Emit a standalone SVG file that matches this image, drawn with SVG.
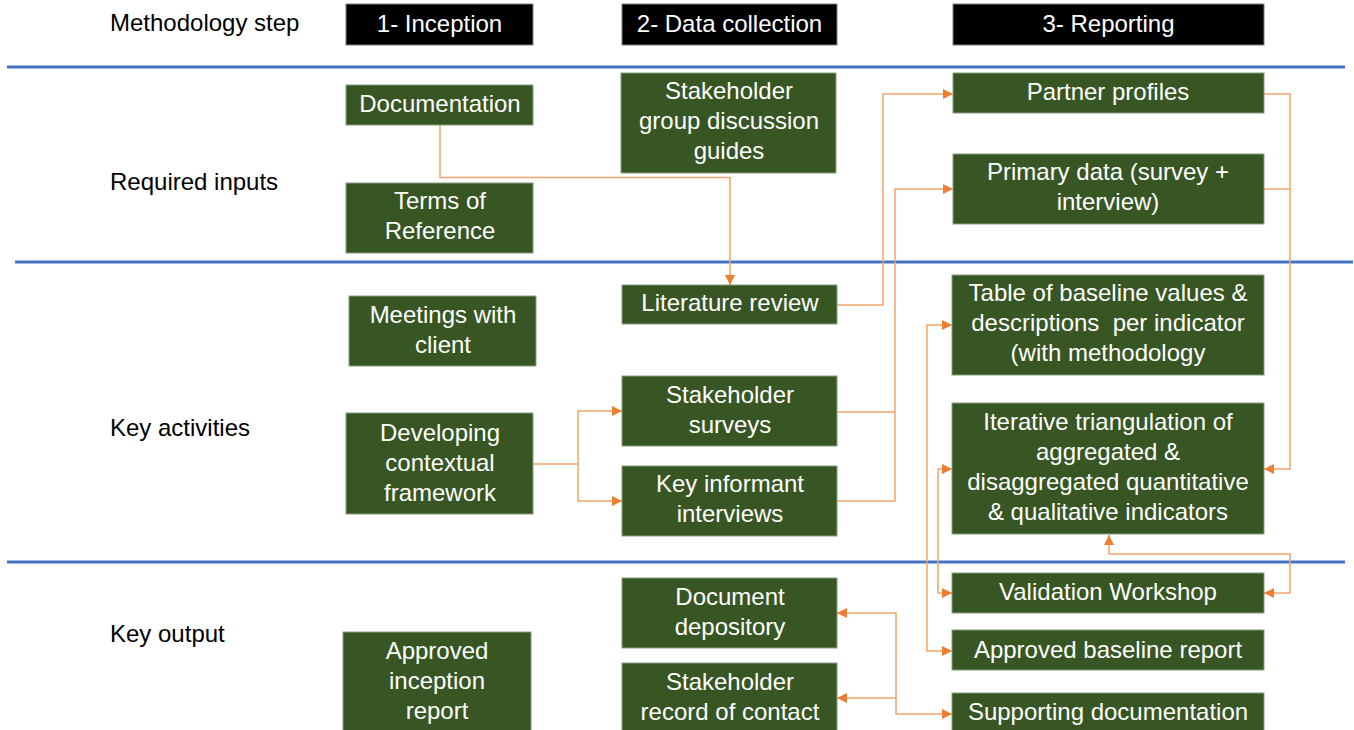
<svg xmlns="http://www.w3.org/2000/svg" width="1354" height="730" viewBox="0 0 1354 730">
<style>
.hdr{fill:#000;stroke:#7f7f7f;stroke-width:1}
.node{fill:#375623;stroke:#8a9e7c;stroke-width:1}
.t{font-family:"Liberation Sans",Arial,sans-serif;font-size:24px;fill:#fff;text-anchor:middle}
.lbl{font-family:"Liberation Sans",Arial,sans-serif;font-size:24px;fill:#000}
.sep{stroke:#4472C4;stroke-width:3}
.c{fill:none;stroke:#F4A46E;stroke-width:1.5}
</style>
<defs>
<marker id="ah" markerUnits="userSpaceOnUse" markerWidth="11" markerHeight="10" refX="10" refY="5" orient="auto-start-reverse">
<path d="M0,0 L10,5 L0,10 z" fill="#ED7D31"/>
</marker>
</defs>

<g id="separators">
<line class="sep" x1="7" y1="67" x2="1345" y2="67"/>
<line class="sep" x1="15" y1="262" x2="1353" y2="262"/>
<line class="sep" x1="7" y1="562" x2="1345" y2="562"/>
</g>

<g id="row-labels">
<text class="lbl" x="110" y="31">Methodology step</text>
<text class="lbl" x="110" y="190">Required inputs</text>
<text class="lbl" x="110" y="436">Key activities</text>
<text class="lbl" x="110" y="642">Key output</text>
</g>

<g id="hdr-inception"><rect class="hdr" x="346" y="4" width="187" height="41"/><text class="t" x="439.5" y="32">1- Inception</text></g>
<g id="hdr-data"><rect class="hdr" x="622" y="4" width="215" height="41"/><text class="t" x="729.5" y="32">2- Data collection</text></g>
<g id="hdr-reporting"><rect class="hdr" x="953" y="4" width="311" height="41"/><text class="t" x="1108.5" y="32">3- Reporting</text></g>

<g id="connectors">
<path class="c" d="M440,125 V177.5 H730 V285" marker-end="url(#ah)"/>
<path class="c" d="M837,305 H883 V94 H953" marker-end="url(#ah)"/>
<path class="c" d="M837,412 H895"/>
<path class="c" d="M837,501 H895 V189 H953" marker-end="url(#ah)"/>
<path class="c" d="M533,464 H578"/>
<path class="c" d="M578,464 V411 H622" marker-end="url(#ah)"/>
<path class="c" d="M578,464 V501 H622" marker-end="url(#ah)"/>
<path class="c" d="M1264,94 H1290 V469 H1264" marker-end="url(#ah)"/>
<path class="c" d="M1264,189 H1290"/>
<path class="c" d="M1264,593 H1290 V554 H1109 V535" marker-start="url(#ah)" marker-end="url(#ah)"/>
<path class="c" d="M952,325 H927 V651 H952" marker-start="url(#ah)" marker-end="url(#ah)"/>
<path class="c" d="M952,469 H938 V593 H952" marker-start="url(#ah)" marker-end="url(#ah)"/>
<path class="c" d="M837,613 H896 V714 H952" marker-start="url(#ah)" marker-end="url(#ah)"/>
<path class="c" d="M896,698 H837" marker-end="url(#ah)"/>
</g>

<g id="documentation"><rect class="node" x="346" y="85" width="187" height="40"/><text class="t" x="440" y="112">Documentation</text></g>
<g id="terms-of-reference"><rect class="node" x="346" y="183" width="187" height="70"/><text class="t" x="440" y="209">Terms of</text><text class="t" x="440" y="239">Reference</text></g>
<g id="sgd-guides"><rect class="node" x="621" y="73" width="215" height="100"/><text class="t" x="729" y="99">Stakeholder</text><text class="t" x="729" y="129">group discussion</text><text class="t" x="729" y="159">guides</text></g>
<g id="partner-profiles"><rect class="node" x="953" y="73" width="311" height="40"/><text class="t" x="1108" y="100">Partner profiles</text></g>
<g id="primary-data"><rect class="node" x="953" y="154" width="311" height="70"/><text class="t" x="1108" y="180">Primary data (survey +</text><text class="t" x="1108" y="210">interview)</text></g>
<g id="literature-review"><rect class="node" x="622" y="285" width="215" height="39"/><text class="t" x="730" y="311">Literature review</text></g>
<g id="meetings-client"><rect class="node" x="349" y="296" width="187" height="70"/><text class="t" x="443" y="323">Meetings with</text><text class="t" x="443" y="353">client</text></g>
<g id="table-baseline"><rect class="node" x="952" y="275" width="312" height="100"/><text class="t" x="1108" y="301">Table of baseline values &amp;</text><text class="t" x="1108" y="331" xml:space="preserve">descriptions  per indicator</text><text class="t" x="1108" y="361">(with methodology</text></g>
<g id="stakeholder-surveys"><rect class="node" x="622" y="376" width="215" height="70"/><text class="t" x="730" y="403">Stakeholder</text><text class="t" x="730" y="433">surveys</text></g>
<g id="contextual-framework"><rect class="node" x="346" y="413" width="187" height="101"/><text class="t" x="440" y="441">Developing</text><text class="t" x="440" y="471">contextual</text><text class="t" x="440" y="501">framework</text></g>
<g id="key-informant"><rect class="node" x="622" y="466" width="215" height="70"/><text class="t" x="730" y="492">Key informant</text><text class="t" x="730" y="522">interviews</text></g>
<g id="iterative-triangulation"><rect class="node" x="952" y="403" width="312" height="131"/><text class="t" x="1108" y="430">Iterative triangulation of</text><text class="t" x="1108" y="460">aggregated &amp;</text><text class="t" x="1108" y="490">disaggregated quantitative</text><text class="t" x="1108" y="520">&amp; qualitative indicators</text></g>
<g id="validation-workshop"><rect class="node" x="952" y="573" width="312" height="40"/><text class="t" x="1108" y="600">Validation Workshop</text></g>
<g id="document-depository"><rect class="node" x="622" y="578" width="215" height="70"/><text class="t" x="730" y="605">Document</text><text class="t" x="730" y="635">depository</text></g>
<g id="approved-baseline"><rect class="node" x="952" y="630" width="312" height="40"/><text class="t" x="1108" y="658">Approved baseline report</text></g>
<g id="approved-inception"><rect class="node" x="343" y="632" width="188" height="100"/><text class="t" x="437" y="659">Approved</text><text class="t" x="437" y="689">inception</text><text class="t" x="437" y="719">report</text></g>
<g id="stakeholder-record"><rect class="node" x="622" y="663" width="215" height="69"/><text class="t" x="730" y="690">Stakeholder</text><text class="t" x="730" y="720">record of contact</text></g>
<g id="supporting-documentation"><rect class="node" x="952" y="693" width="312" height="39"/><text class="t" x="1108" y="720">Supporting documentation</text></g>
</svg>
